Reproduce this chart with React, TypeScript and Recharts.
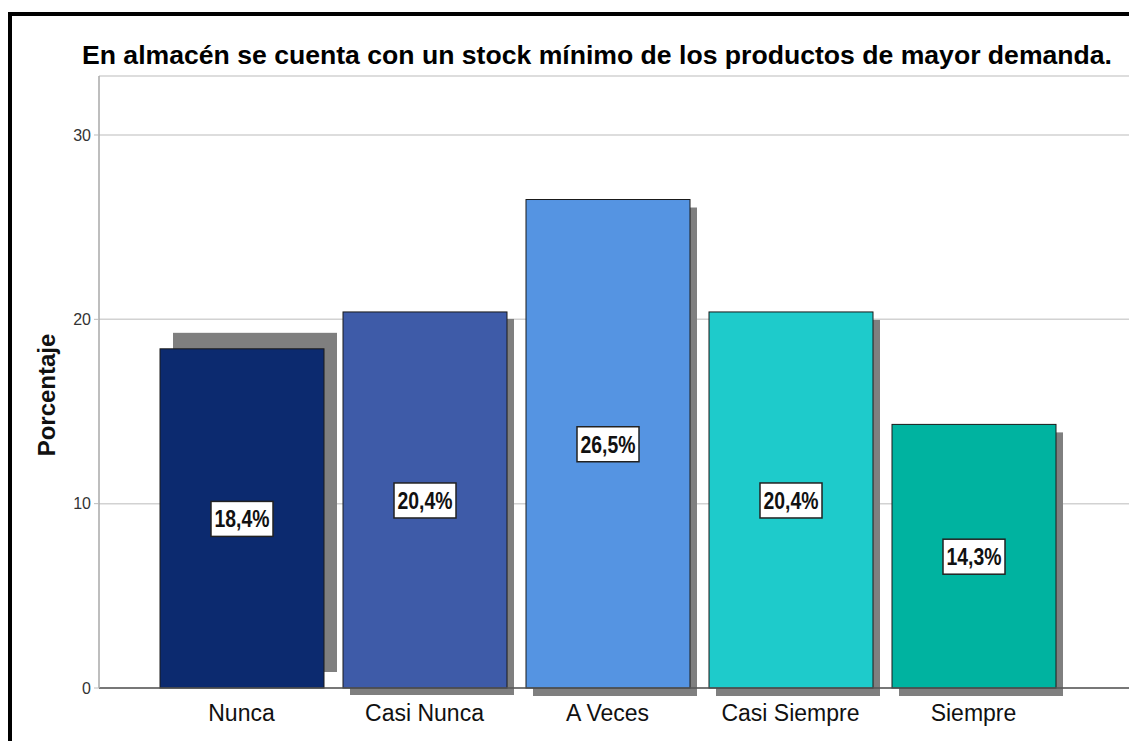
import React from 'react';
import { BarChart, Bar, XAxis, YAxis, CartesianGrid, Cell, LabelList } from 'recharts';

const FONT = "'Liberation Sans', Arial, sans-serif";

const categories = ['Nunca', 'Casi Nunca', 'A Veces', 'Casi Siempre', 'Siempre'];
const percentages = [18.4, 20.4, 26.5, 20.4, 14.3];
const yTicks = [0, 10, 20, 30];

const COLORS = ['#0C2A6F', '#3E5BA8', '#5594E2', '#1ECBCB', '#00B3A0'];
// shadow offsets (SPSS drew the first one oddly)
const SHADOWS = [
  { dx: 13, dy: -16 },
  { dx: 7, dy: 7 },
  { dx: 7, dy: 8 },
  { dx: 7, dy: 8 },
  { dx: 7, dy: 8 },
];

const data = categories.map((name, i) => ({ name, value: percentages[i] }));

const fmt = (v: number) => v.toFixed(1).replace('.', ',') + '%';

const ShadowBar = (props: any) => {
  const { x, y, width, height, fill, index } = props;
  const s = SHADOWS[index] || SHADOWS[1];
  return (
    <g>
      <rect x={x + s.dx} y={y + s.dy} width={width} height={height} fill="#7F7F7F" />
      <rect x={x} y={y} width={width} height={height} fill={fill} stroke="#1A1A1A" strokeWidth={1} />
    </g>
  );
};

const ValueLabel = (props: any) => {
  const { x, y, width, height, value } = props;
  const cx = x + width / 2;
  const cy = y + height / 2;
  return (
    <g>
      <rect x={cx - 31} y={cy - 17} width={62} height={35} fill="#FFFFFF" stroke="#222" strokeWidth={1.5} />
      <text
        x={cx}
        y={cy + 9}
        textAnchor="middle"
        fontFamily={FONT}
        fontWeight="bold"
        fontSize={24}
        textLength={55}
        lengthAdjust="spacingAndGlyphs"
        fill="#111"
      >
        {fmt(value)}
      </text>
    </g>
  );
};

export default function App() {
  return (
    <div style={{ position: 'absolute', left: 0, top: 0, width: 1129, height: 741, background: '#fff' }}>
      <div style={{ position: 'absolute', left: 8, top: 12, width: 1121, height: 4, background: '#000' }} />
      <div style={{ position: 'absolute', left: 8, top: 12, width: 4, height: 729, background: '#000' }} />
      <div style={{ position: 'absolute', left: 0, top: 0 }}>
        <BarChart
          width={1129}
          height={741}
          data={data}
          margin={{ top: 76, right: 0, left: 0, bottom: 13 }}
          barSize={164}
        >
          <text x={597} y={64} textAnchor="middle" fontFamily={FONT} fontWeight="bold" fontSize={26.6} fill="#000">
            En almacén se cuenta con un stock mínimo de los productos de mayor demanda.
          </text>
          <CartesianGrid vertical={false} stroke="#D2D2D2" strokeWidth={1.5} />
          <XAxis
            dataKey="name"
            height={40}
            padding={{ left: 51, right: 64 }}
            axisLine={{ stroke: '#555', strokeWidth: 1.5 }}
            tickLine={false}
            tickSize={0}
            tickMargin={17}
            tick={{ fontSize: 23, fill: '#111', fontFamily: FONT }}
            interval={0}
          />
          <YAxis
            width={99}
            domain={[0, 33.2]}
            ticks={yTicks}
            axisLine={{ stroke: '#A8A8A8', strokeWidth: 1.5 }}
            tickLine={{ stroke: '#BBB' }}
            tickSize={5}
            tickMargin={3}
            tick={{ fontSize: 16, fill: '#333', fontFamily: FONT }}
            label={{
              content: (p: any) => {
                const vb = p.viewBox;
                const cx = 46;
                const cy = vb.y + vb.height / 2 + 13;
                return (
                  <text
                    x={cx}
                    y={cy}
                    transform={`rotate(-90, ${cx}, ${cy})`}
                    textAnchor="middle"
                    dominantBaseline="central"
                    fontFamily={FONT}
                    fontWeight="bold"
                    fontSize={24}
                    fill="#111"
                  >
                    Porcentaje
                  </text>
                );
              },
            }}
          />
          <Bar dataKey="value" shape={ShadowBar} isAnimationActive={false}>
            {data.map((d, i) => (
              <Cell key={d.name} fill={COLORS[i]} />
            ))}
            <LabelList dataKey="value" content={ValueLabel} />
          </Bar>
        </BarChart>
      </div>
    </div>
  );
}
